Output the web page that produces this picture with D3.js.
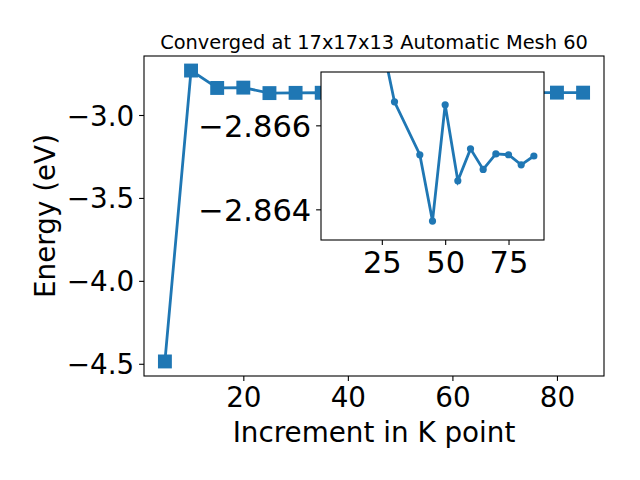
<!DOCTYPE html>
<html><head><meta charset="utf-8">
<script src="https://cdn.jsdelivr.net/npm/d3@7"></script>
<style>body{margin:0;background:#fff}svg{display:block}text{font-family:"DejaVu Sans",sans-serif}</style>
</head><body><svg id="c" width="640" height="480"></svg>
<script>
// ---- data ----
const kPoints = [5,10,15,20,25,30,35,40,45,50,55,60,65,70,75,80,85];
const energies = [-4.486,-2.732,-2.837,-2.835,-2.868,-2.8666,-2.866,-2.8653,-2.8637,-2.8665,-2.8647,-2.8654,-2.8649,-2.8653,-2.8653,-2.8651,-2.8653];
const insetK = [25,30,40,45,50,55,60,65,70,75,80,85];
const insetE = [-2.8680,-2.86656,-2.86530,-2.86372,-2.86649,-2.86468,-2.86544,-2.86495,-2.86532,-2.86530,-2.86506,-2.86527];
const xTicks = [20,40,60,80];
const yTicks = [-3.0,-3.5,-4.0,-4.5];
const insetXTicks = [25,50,75];
const insetYTicks = [-2.866,-2.864];
const insetYLim = [-2.86327,-2.86727]; // bottom, top (inverted)
const titleText = "Converged at 17x17x13 Automatic Mesh 60";
const xLabel = "Increment in K point";
const yLabel = "Energy (eV)";

const color = "#1f77b4";
const svg = d3.select("#c");
const M = {l:144, r:604, t:56, b:376};
const I = {l:321, r:544, t:72, b:240};

function pad(ext, f){const r=ext[1]-ext[0];return [ext[0]-f*r, ext[1]+f*r];}
const x = d3.scaleLinear().domain(pad(d3.extent(kPoints),0.05)).range([M.l,M.r]);
const y = d3.scaleLinear().domain(pad(d3.extent(energies),0.05)).range([M.b,M.t]);

const tickFont = 27.8, insetTickFont = 30.5;
function styleAxis(g, size){
  g.selectAll(".domain").remove();
  g.selectAll(".tick line").attr("stroke","#000").attr("stroke-width",1.1);
  g.selectAll(".tick text").attr("font-size",size).attr("fill","#000").attr("font-family","DejaVu Sans");
}
const main = svg.append("g");
main.append("g").attr("transform",`translate(0,${M.b})`)
  .call(d3.axisBottom(x).tickValues(xTicks).tickSize(4.9).tickPadding(4.9).tickFormat(d3.format("d")))
  .call(g=>styleAxis(g,tickFont)).selectAll(".tick text").attr("dy","0.75em");
main.append("g").attr("transform",`translate(${M.l},0)`)
  .call(d3.axisLeft(y).tickValues(yTicks).tickSize(4.9).tickPadding(4.9).tickFormat(d3.format(".1f")))
  .call(g=>styleAxis(g,tickFont)).selectAll(".tick text").attr("dy","0.36em");

main.append("path").datum(kPoints.map((k,i)=>[k,energies[i]]))
  .attr("fill","none").attr("stroke",color).attr("stroke-width",2.8)
  .attr("d",d3.line().x(d=>x(d[0])).y(d=>y(d[1])));
const ms = 13.9;
main.selectAll("rect.m").data(kPoints.map((k,i)=>[k,energies[i]])).join("rect")
  .attr("x",d=>x(d[0])-ms/2).attr("y",d=>y(d[1])-ms/2).attr("width",ms).attr("height",ms)
  .attr("fill",color);
main.append("rect").attr("x",M.l).attr("y",M.t).attr("width",M.r-M.l).attr("height",M.b-M.t)
  .attr("fill","none").attr("stroke","#000").attr("stroke-width",1.1);

svg.append("text").attr("x",(M.l+M.r)/2).attr("y",49).attr("text-anchor","middle")
  .attr("font-size",19.4).text(titleText);
svg.append("text").attr("x",(M.l+M.r)/2).attr("y",441.5).attr("text-anchor","middle")
  .attr("font-size",27.8).text(xLabel);
svg.append("text").attr("transform",`translate(55,${(M.t+M.b)/2}) rotate(-90)`).attr("text-anchor","middle")
  .attr("font-size",27.8).text(yLabel);

// ---- inset ----
const xi = d3.scaleLinear().domain(pad(d3.extent(kPoints),0.05)).range([I.l,I.r]);
const yi = d3.scaleLinear().domain(insetYLim).range([I.b,I.t]);
const ins = svg.append("g");
ins.append("rect").attr("x",I.l).attr("y",I.t).attr("width",I.r-I.l).attr("height",I.b-I.t).attr("fill","#fff");
svg.append("defs").append("clipPath").attr("id","ic").append("rect")
  .attr("x",I.l).attr("y",I.t).attr("width",I.r-I.l).attr("height",I.b-I.t);
const cg = ins.append("g").attr("clip-path","url(#ic)");
const idata = insetK.map((k,i)=>[k,insetE[i]]);
cg.append("path").datum(idata).attr("fill","none").attr("stroke",color).attr("stroke-width",2.8)
  .attr("d",d3.line().x(d=>xi(d[0])).y(d=>yi(d[1])));
cg.selectAll("circle").data(idata).join("circle").attr("cx",d=>xi(d[0])).attr("cy",d=>yi(d[1]))
  .attr("r",3.6).attr("fill",color);
ins.append("g").attr("transform",`translate(0,${I.b})`)
  .call(d3.axisBottom(xi).tickValues(insetXTicks).tickSize(4.9).tickPadding(4.9).tickFormat(d3.format("d")))
  .call(g=>styleAxis(g,insetTickFont)).selectAll(".tick text").attr("dy","0.75em");
ins.append("g").attr("transform",`translate(${I.l},0)`)
  .call(d3.axisLeft(yi).tickValues(insetYTicks).tickSize(4.9).tickPadding(4.9).tickFormat(d3.format(".3f")))
  .call(g=>styleAxis(g,insetTickFont)).selectAll(".tick text").attr("dy","0.36em");
ins.append("rect").attr("x",I.l).attr("y",I.t).attr("width",I.r-I.l).attr("height",I.b-I.t)
  .attr("fill","none").attr("stroke","#000").attr("stroke-width",1.1);
</script></body></html>
